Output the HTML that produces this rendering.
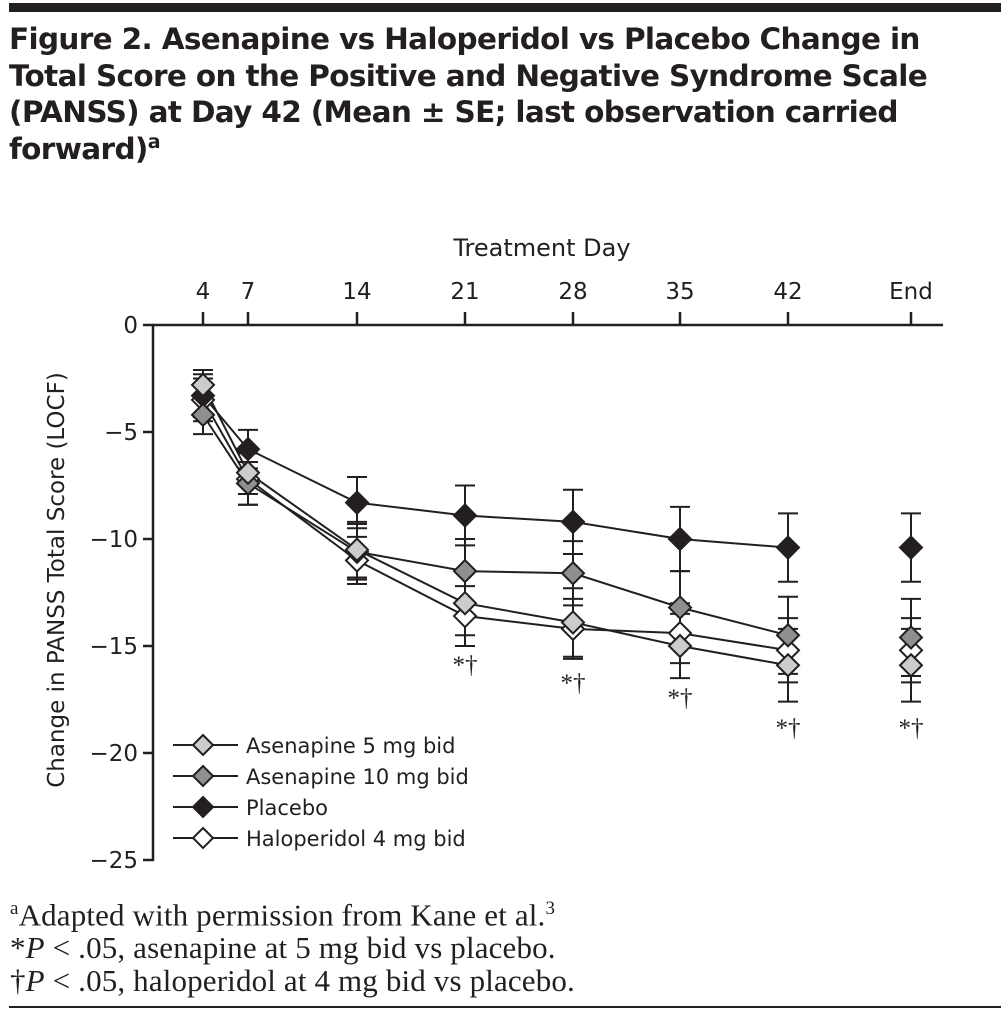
<!DOCTYPE html>
<html><head><meta charset="utf-8"><style>
body{margin:0;background:#fff;width:1001px;height:1013px;overflow:hidden;position:relative}
.t{position:absolute;left:9px;top:21px;font-family:"DejaVu Sans","Liberation Sans",sans-serif;font-weight:bold;font-size:29.5px;line-height:36.5px;color:#231f20;letter-spacing:-0.65px}
.f{position:absolute;left:10px;top:892px;font-family:"Liberation Serif",serif;font-size:31px;line-height:33px;color:#231f20;letter-spacing:0.15px}
</style></head><body>
<div style="position:absolute;left:9px;top:3px;width:992px;height:9px;background:#231f20"></div>
<div class="t">Figure 2. Asenapine vs Haloperidol vs Placebo Change in<br>Total Score on the Positive and Negative Syndrome Scale<br>(PANSS) at Day 42 (Mean ± SE; last observation carried<br>forward)<sup style="font-size:19px;line-height:0">a</sup></div>
<svg width="1001" height="1013" style="position:absolute;left:0;top:0" font-family="DejaVu Sans, Liberation Sans, sans-serif" fill="#231f20">
<g stroke="#231f20" stroke-width="2.5" fill="none">
<line x1="153" y1="325" x2="153" y2="861"/>
<line x1="152" y1="325" x2="943" y2="325"/>
<line x1="143" y1="325" x2="153" y2="325"/><line x1="143" y1="432" x2="153" y2="432"/><line x1="143" y1="539" x2="153" y2="539"/><line x1="143" y1="646" x2="153" y2="646"/><line x1="143" y1="753" x2="153" y2="753"/><line x1="143" y1="860" x2="153" y2="860"/>
<line x1="203" y1="312" x2="203" y2="325"/><line x1="248" y1="312" x2="248" y2="325"/><line x1="357" y1="312" x2="357" y2="325"/><line x1="465" y1="312" x2="465" y2="325"/><line x1="573" y1="312" x2="573" y2="325"/><line x1="680" y1="312" x2="680" y2="325"/><line x1="788" y1="312" x2="788" y2="325"/><line x1="911" y1="312" x2="911" y2="325"/>
</g>
<g font-size="23" text-anchor="end">
<text x="138" y="333">0</text><text x="138" y="440">−5</text><text x="138" y="547">−10</text><text x="138" y="654">−15</text><text x="138" y="761">−20</text><text x="138" y="868">−25</text>
</g>
<g font-size="23" text-anchor="middle">
<text x="203" y="299">4</text><text x="248" y="299">7</text><text x="357" y="299">14</text><text x="465" y="299">21</text><text x="573" y="299">28</text><text x="680" y="299">35</text><text x="788" y="299">42</text><text x="911" y="299">End</text>
<text x="542" y="256" font-size="24">Treatment Day</text>
<text transform="translate(64,580) rotate(-90)" font-size="23">Change in PANSS Total Score (LOCF)</text>
</g>
<g font-family="Liberation Serif, serif" font-size="25" text-anchor="middle">
<text x="465" y="673">*†</text><text x="573" y="691">*†</text><text x="680" y="706">*†</text><text x="788" y="736">*†</text><text x="911" y="736">*†</text>
</g>
<g id="d"></g>
<g stroke="#231f20" stroke-width="2">
<line x1="173" y1="745" x2="238" y2="745"/><polygon points="203,735 213,745 203,755 193,745" fill="#cccccc"/>
<line x1="173" y1="776" x2="238" y2="776"/><polygon points="203,766 213,776 203,786 193,776" fill="#8f8f8f"/>
<line x1="173" y1="807" x2="238" y2="807"/><polygon points="203,797 213,807 203,817 193,807" fill="#231f20"/>
<line x1="173" y1="838" x2="238" y2="838"/><polygon points="203,828 213,838 203,848 193,838" fill="#fff"/>
</g>
<g font-size="21">
<text x="246" y="753">Asenapine 5 mg bid</text><text x="246" y="784">Asenapine 10 mg bid</text><text x="246" y="815">Placebo</text><text x="246" y="846">Haloperidol 4 mg bid</text>
</g>
</svg>
<div class="f"><sup style="font-size:19px">a</sup>Adapted with permission from Kane et al.<sup style="font-size:19px">3</sup><br>*<i>P</i> &lt; .05, asenapine at 5 mg bid vs placebo.<br>†<i>P</i> &lt; .05, haloperidol at 4 mg bid vs placebo.</div>
<div style="position:absolute;left:9px;top:1006px;width:992px;height:2px;background:#231f20"></div>
<script>
var X=[203,248,357,465,573,680,788,911];
var S=[
{c:"#fff",v:[-3.5,-7.2,-11.0,-13.6,-14.2,-14.4,-15.2,-15.2],e:[1.0,1.2,1.1,1.4,1.4,1.4,1.5,1.5]},
{c:"#231f20",v:[-3.3,-5.8,-8.3,-8.9,-9.2,-10.0,-10.4,-10.4],e:[1.0,0.9,1.2,1.4,1.5,1.5,1.6,1.6]},
{c:"#8f8f8f",v:[-4.2,-7.4,-10.6,-11.5,-11.6,-13.2,-14.5,-14.6],e:[0.9,1.0,1.3,1.5,1.5,1.7,1.8,1.8]},
{c:"#cccccc",v:[-2.8,-6.9,-10.5,-13.0,-13.9,-15.0,-15.9,-15.9],e:[0.7,1.0,1.3,1.5,1.6,1.5,1.7,1.7]}];
function Y(v){return 325-21.4*v}
var h="";
S.forEach(function(s){for(var i=0;i<8;i++){var x=X[i],a=Y(s.v[i]+s.e[i]),b=Y(s.v[i]-s.e[i]);
h+='<line x1="'+x+'" y1="'+a+'" x2="'+x+'" y2="'+b+'"/><line x1="'+(x-10)+'" y1="'+a+'" x2="'+(x+10)+'" y2="'+a+'"/><line x1="'+(x-10)+'" y1="'+b+'" x2="'+(x+10)+'" y2="'+b+'"/>';}});
S.forEach(function(s){var p=[];for(var i=0;i<7;i++)p.push(X[i]+","+Y(s.v[i]));h+='<polyline fill="none" points="'+p.join(" ")+'"/>';});
S.forEach(function(s){for(var i=0;i<8;i++){var x=X[i],y=Y(s.v[i]);h+='<polygon fill="'+s.c+'" points="'+x+','+(y-11)+' '+(x+11)+','+y+' '+x+','+(y+11)+' '+(x-11)+','+y+'"/>';}});
var g=document.getElementById("d");g.setAttribute("stroke","#231f20");g.setAttribute("stroke-width","2");g.innerHTML=h;
</script>
</body></html>
